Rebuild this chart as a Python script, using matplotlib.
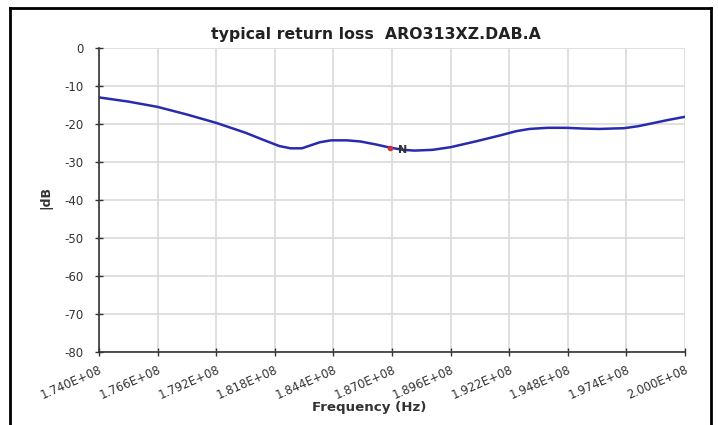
import matplotlib
matplotlib.use("Agg")
import matplotlib.pyplot as plt
from matplotlib.ticker import FuncFormatter, MultipleLocator
from matplotlib.lines import Line2D
import numpy as np

plt.rcParams['font.family'] = ['DejaVu Sans']

freq_mhz = [174.0, 175.3, 176.6, 177.9, 179.2, 180.5, 181.3, 182.0, 182.5, 183.0,
            183.4, 183.8, 184.3, 185.0, 185.6, 186.3, 186.9, 187.5, 188.0, 188.8,
            189.6, 190.7, 191.8, 192.5, 193.1, 193.9, 194.7, 195.5, 196.2, 197.3,
            197.9, 198.4, 199.2, 200.0]
return_loss_db = [-13.0, -14.1, -15.5, -17.5, -19.7, -22.3, -24.2, -25.8, -26.4, -26.4,
                  -25.6, -24.8, -24.3, -24.3, -24.6, -25.4, -26.2, -26.8, -27.0, -26.8,
                  -26.1, -24.6, -23.0, -21.9, -21.3, -21.0, -21.0, -21.2, -21.3, -21.1,
                  -20.6, -20.0, -19.0, -18.1]
marker_freq_mhz = [186.9]
marker_db = [-26.2]
marker_label = "N"
x_ticks_hz = [1.740e8, 1.766e8, 1.792e8, 1.818e8, 1.844e8, 1.870e8,
              1.896e8, 1.922e8, 1.948e8, 1.974e8, 2.000e8]
title = "typical return loss  ARO313XZ.DAB.A"

W, H = 718, 425
fig = plt.figure(figsize=(7.18, 4.25), dpi=100)
ax = fig.add_axes([99/W, 1-352/H, (685-99)/W, (352-48)/H])

f_hz = np.array(freq_mhz) * 1e6
ax.plot(f_hz, return_loss_db, color='#2a2ab0', lw=1.8, solid_capstyle='round',
        solid_joinstyle='round')
ax.plot(np.array(marker_freq_mhz)*1e6, marker_db, 'o', color='#cc3333', ms=3, zorder=5)
ax.annotate(marker_label, (marker_freq_mhz[0]*1e6, marker_db[0]), xytext=(6, -2),
            textcoords='offset points', fontsize=8, fontweight='bold', color='#333333',
            va='center', ha='left')

ax.set_xlim(x_ticks_hz[0], x_ticks_hz[-1])
ax.set_ylim(-80, 0)
ax.set_xticks(x_ticks_hz)
ax.yaxis.set_major_locator(MultipleLocator(10))
ax.xaxis.set_major_formatter(FuncFormatter(lambda v, p: '{:.3E}'.format(v)))
ax.yaxis.set_major_formatter(FuncFormatter(lambda v, p: '{:d}'.format(int(round(v)))))

ax.grid(True, color='#dadada', lw=1.2)
ax.set_axisbelow(True)
for s in ['top', 'right']:
    ax.spines[s].set_visible(False)
for s in ['left', 'bottom']:
    ax.spines[s].set_color('#333333')
    ax.spines[s].set_linewidth(1.2)

ax.tick_params(axis='both', direction='inout', length=6, width=1, color='#333333',
               labelsize=8.5, labelcolor='#333333')
ax.tick_params(axis='y', pad=8)
ax.tick_params(axis='x', pad=5)
for lbl in ax.get_xticklabels():
    lbl.set_rotation(24)
    lbl.set_ha('right')
    lbl.set_rotation_mode('anchor')

fig.text(375.5/W, 1-35/H, title, ha='center', va='center', fontsize=11.3,
         fontweight='bold', color='#222222')
ax.set_xlabel('Frequency (Hz)', fontsize=9.6, fontweight='bold', color='#333333')
ax.xaxis.set_label_coords((369.5-99)/586, (352-407)/304)
ax.xaxis.label.set_va('center')
ax.set_ylabel('|dB', fontsize=9, fontweight='bold', color='#333333')
ax.yaxis.set_label_coords((46-99)/586, (352-197)/304)
ax.yaxis.label.set_va('center')

# outer frame
fig.add_artist(Line2D([10/W, 10/W], [0, 1-8/H], color='black', lw=2, transform=fig.transFigure))
fig.add_artist(Line2D([711/W, 711/W], [0, 1-8/H], color='black', lw=2, transform=fig.transFigure))
fig.add_artist(Line2D([10/W, 711/W], [1-8/H, 1-8/H], color='black', lw=2, transform=fig.transFigure))

fig.savefig('out.png', dpi=100)
